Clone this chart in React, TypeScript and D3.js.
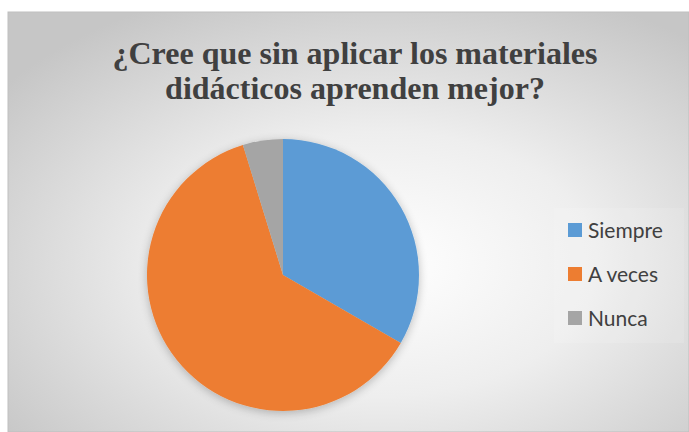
import React from "react";
import * as d3 from "d3";

const categories = ["Siempre", "A veces", "Nunca"];
const values = [7, 13, 1];
const colors = ["#5B9BD5", "#ED7D31", "#A5A5A5"];
const titleLines = ["¿Cree que sin aplicar los materiales", "didácticos aprenden mejor?"];

export default function App() {
  const W = 689, H = 432;
  const cx = 283, cy = 275, r = 136;
  const pie = d3.pie<number>().sort(null).value((d) => d);
  const arcs = pie(values);
  const arc = d3.arc<d3.PieArcDatum<number>>().innerRadius(0).outerRadius(r);
  const legendY = d3.scalePoint<string>().domain(categories).range([230, 318]);
  return (
    <svg width={W} height={H} style={{ position: "absolute", left: 0, top: 0 }}>
      <defs>
        <radialGradient id="bg" cx="0.55" cy="0.6" r="0.7">
          <stop offset="0" stopColor="#ffffff" />
          <stop offset="0.45" stopColor="#eeeeee" />
          <stop offset="1" stopColor="#c6c6c6" />
        </radialGradient>
        <filter id="sh" x="-20%" y="-20%" width="140%" height="140%">
          <feGaussianBlur in="SourceAlpha" stdDeviation="5" />
          <feOffset dx="0" dy="2" result="b" />
          <feComponentTransfer><feFuncA type="linear" slope="0.25" /></feComponentTransfer>
          <feMerge><feMergeNode /><feMergeNode in="SourceGraphic" /></feMerge>
        </filter>
      </defs>
      <rect x={0} y={0} width={W} height={H} fill="#ffffff" />
      <rect x={8} y={12} width={W - 8} height={H - 12} fill="url(#bg)" stroke="#bfbfbf" strokeWidth={1} />
      <g fontFamily="'Liberation Serif', 'Times New Roman', serif" fontWeight="bold" fontSize={32} fill="#404040" textAnchor="middle">
        {titleLines.map((t, i) => (
          <text key={i} x={355} y={64 + i * 35}>{t}</text>
        ))}
      </g>
      <g transform={`translate(${cx},${cy})`} filter="url(#sh)">
        {arcs.map((a, i) => (
          <path key={i} d={arc(a) || ""} fill={colors[i]} />
        ))}
      </g>
      <rect x={554} y={208} width={130} height={135} fill="#ffffff" fillOpacity={0.12} />
      <g fontFamily="Lato, 'Open Sans', sans-serif" fontSize={21} fill="#404040">
        {categories.map((c, i) => (
          <g key={c}>
            <rect x={568} y={(legendY(c) as number) - 7} width={14} height={14} fill={colors[i]} />
            <text x={588} y={(legendY(c) as number) + 8}>{c}</text>
          </g>
        ))}
      </g>
    </svg>
  );
}
